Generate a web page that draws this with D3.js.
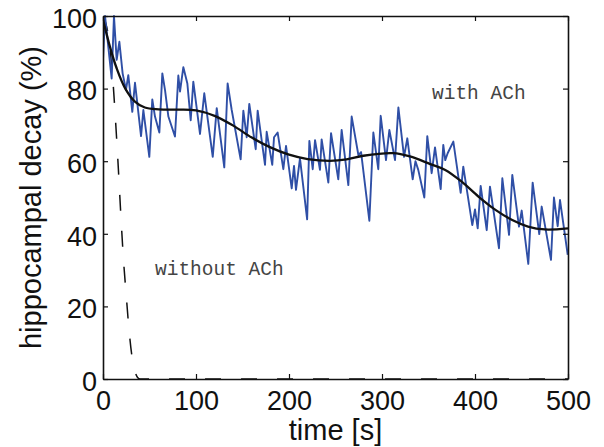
<!DOCTYPE html>
<html><head><meta charset="utf-8">
<script src="https://cdn.jsdelivr.net/npm/d3@7"></script>
<style>
html,body{margin:0;padding:0;background:#fff;}
svg{display:block;}
</style></head>
<body>
<svg id="chart" width="604" height="447"></svg>
<script>
// ---- data ----
const xTicks = [0, 100, 200, 300, 400, 500];
const yTicks = [0, 20, 40, 60, 80, 100];

const withAChTime = [0, 2.2, 9.3, 11.8, 14.7, 17.6, 21.1, 24.7, 27.2, 31.5, 34.4, 40.9, 43.4, 49.8, 53.0, 55.9, 60.6, 63.8, 66.7, 70.3, 77.4, 81.0, 82.8, 86.4, 90.7, 94.3, 97.1, 104.3, 108.9, 118.0, 122.3, 130.4, 134.0, 138.4, 148.0, 150.9, 154.5, 157.3, 164.2, 166.3, 174.2, 176.0, 182.0, 183.9, 187.8, 193.9, 196.8, 202.9, 205.4, 207.5, 211.8, 219.5, 221.9, 225.5, 228.0, 233.3, 235.1, 242.3, 245.2, 253.0, 256.6, 263.8, 267.4, 274.6, 277.5, 286.4, 290.7, 296.0, 298.6, 304.3, 307.9, 314.0, 317.6, 323.7, 327.2, 333.0, 336.0, 339.0, 345.5, 348.7, 353.4, 357.0, 363.1, 365.9, 368.0, 370.6, 376.7, 384.6, 387.4, 397.1, 400.0, 402.9, 406.1, 412.6, 416.1, 425.8, 429.4, 436.6, 440.1, 447.3, 450.2, 457.3, 462.0, 469.1, 471.7, 481.7, 484.9, 488.9, 491.4, 499.7];
const withAChValue = [88, 100, 82.8, 100, 87.9, 92.9, 84.2, 79.6, 83.7, 73.6, 81.6, 66.9, 74.1, 61.2, 77.0, 72.3, 67.9, 84.2, 79.6, 72.3, 66.8, 83.6, 79.2, 85.9, 81.4, 71.3, 81.9, 67.5, 78.7, 61.2, 74.6, 58.3, 81.4, 74.1, 60.5, 73.9, 66.6, 75.8, 63.3, 73.9, 59.0, 68.1, 59.0, 66.6, 67.9, 57.8, 64.2, 52.5, 58.7, 52.1, 60.8, 44.0, 65.6, 57.8, 65.8, 57.6, 66.0, 54.1, 67.7, 55.0, 68.6, 53.4, 72.3, 61.7, 62.5, 43.6, 67.9, 57.8, 72.5, 60.3, 68.6, 60.3, 74.8, 61.2, 66.3, 55.0, 60.0, 57.6, 50.0, 66.9, 56.7, 63.8, 52.3, 64.5, 60.3, 62.2, 65.4, 51.3, 58.5, 42.4, 46.7, 41.5, 53.2, 41.0, 53.0, 36.0, 55.3, 39.7, 56.2, 42.0, 46.4, 31.7, 54.1, 39.9, 47.5, 32.8, 50.0, 42.1, 49.3, 34.2];

const fitTime = [0, 7.5, 14.7, 24, 34, 45, 60, 80, 100, 120, 140, 160, 180, 200, 220, 244, 262, 280, 312, 330, 352, 368, 386, 404, 422, 440, 457, 475, 500];
const fitValue = [99, 91.5, 85.6, 80, 76.5, 74.8, 74.3, 74.2, 74.0, 72.5, 69.8, 66.5, 63.8, 61.8, 60.6, 60.1, 60.5, 61.5, 62.2, 61.3, 59.2, 57.6, 54.3, 50.2, 46.6, 43.8, 42, 41.2, 41.5];

const withoutAChTime = [0, 4, 8, 11, 14, 16.5, 19, 22, 25, 28, 31, 34, 37, 40, 45, 500];
const withoutAChValue = [100, 97, 90, 81, 69, 58, 46, 33, 23, 13.5, 6.5, 2.5, 0.5, 0, 0, 0];

const labelWith = "with ACh";
const labelWithout = "without ACh";
const xLabel = "time [s]";
const yLabel = "hippocampal decay (%)";

// ---- drawing ----
const svg = d3.select("#chart");
const mLeft = 103, mRight = 568, mTop = 16, mBottom = 379;
const x = d3.scaleLinear().domain([0, 500]).range([mLeft, mRight]);
const y = d3.scaleLinear().domain([0, 100]).range([mBottom, mTop]);
const sans = "'Liberation Sans', Arial, Helvetica, sans-serif";
const mono = "'Liberation Mono', 'Courier New', monospace";

svg.append("defs").append("clipPath").attr("id", "clip")
  .append("rect").attr("x", mLeft).attr("y", mTop - 1)
  .attr("width", mRight - mLeft).attr("height", mBottom - mTop + 1);

const plot = svg.append("g").attr("clip-path", "url(#clip)");

plot.append("path")
  .datum(withoutAChTime.map((t, i) => [t, withoutAChValue[i]]))
  .attr("fill", "none").attr("stroke", "#111").attr("stroke-width", 1.5)
  .attr("stroke-dasharray", "16,20")
  .attr("d", d3.line().x(d => x(d[0])).y(d => y(d[1])).curve(d3.curveMonotoneX));

plot.append("path")
  .datum(withAChTime.map((t, i) => [t, withAChValue[i]]))
  .attr("fill", "none").attr("stroke", "#2F4FA6").attr("stroke-width", 1.9)
  .attr("stroke-linejoin", "round")
  .attr("d", d3.line().x(d => x(d[0])).y(d => y(d[1])));

plot.append("path")
  .datum(fitTime.map((t, i) => [t, fitValue[i]]))
  .attr("fill", "none").attr("stroke", "#111").attr("stroke-width", 2.3)
  .attr("d", d3.line().x(d => x(d[0])).y(d => y(d[1])).curve(d3.curveCatmullRom.alpha(0.5)));

// axes (box with inward ticks)
function styleAxis(g) {
  g.selectAll(".domain").attr("stroke", "#111").attr("stroke-width", 1.6);
  g.selectAll(".tick line").attr("stroke", "#111").attr("stroke-width", 1.2);
  g.selectAll("text").attr("font-family", sans).attr("font-size", 27).attr("fill", "#111");
}
svg.append("g").attr("transform", `translate(0,${mBottom})`)
  .call(d3.axisBottom(x).tickValues(xTicks).tickSize(-5).tickSizeOuter(0).tickPadding(12))
  .call(styleAxis);
svg.append("g").attr("transform", `translate(0,${mTop})`)
  .call(d3.axisTop(x).tickValues(xTicks).tickSize(-5).tickSizeOuter(0).tickFormat(""))
  .call(styleAxis);
const ya = svg.append("g").attr("transform", `translate(${mLeft},0)`)
  .call(d3.axisLeft(y).tickValues(yTicks).tickSize(-5).tickSizeOuter(0).tickPadding(6))
  .call(styleAxis);
ya.selectAll("text").attr("dy", "0.42em");
svg.append("g").attr("transform", `translate(${mRight},0)`)
  .call(d3.axisRight(y).tickValues(yTicks).tickSize(-5).tickSizeOuter(0).tickFormat(""))
  .call(styleAxis);

// axis labels
svg.append("text").attr("x", (mLeft + mRight) / 2).attr("y", 440)
  .attr("text-anchor", "middle").attr("font-family", sans).attr("font-size", 29)
  .attr("fill", "#111").text(xLabel);
svg.append("text").attr("transform", `translate(41,${(mTop + mBottom) / 2}) rotate(-90)`)
  .attr("text-anchor", "middle").attr("font-family", sans).attr("font-size", 29)
  .attr("fill", "#111").text(yLabel);

// annotations
svg.append("text").attr("x", 432).attr("y", 99).attr("font-family", mono)
  .attr("font-size", 19.5).attr("fill", "#444").text(labelWith);
svg.append("text").attr("x", 155).attr("y", 275).attr("font-family", mono)
  .attr("font-size", 19.5).attr("fill", "#444").text(labelWithout);
</script>
</body></html>
